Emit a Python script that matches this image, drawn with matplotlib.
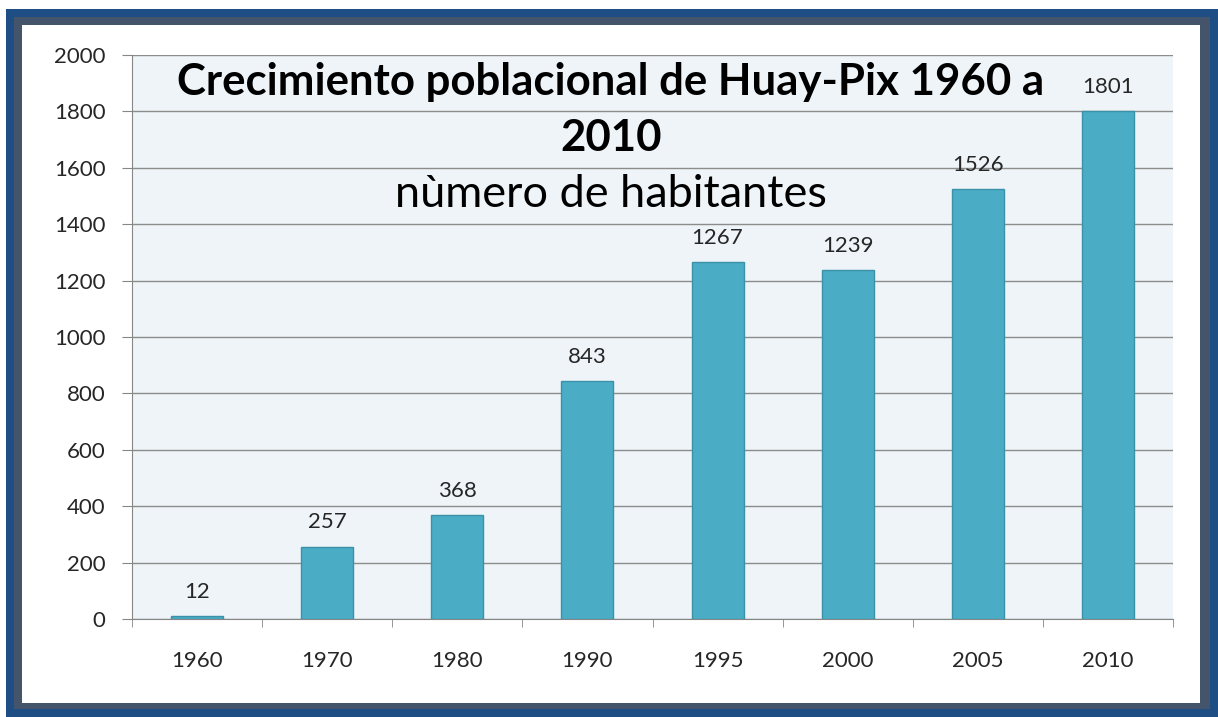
import matplotlib.pyplot as plt
from matplotlib.patches import Rectangle

years = ['1960', '1970', '1980', '1990', '1995', '2000', '2005', '2010']
habitantes = [12, 257, 368, 843, 1267, 1239, 1526, 1801]
yticks = [0, 200, 400, 600, 800, 1000, 1200, 1400, 1600, 1800, 2000]

W, H = 1218, 717
fig = plt.figure(figsize=(W / 100, H / 100), dpi=100)
plt.rcParams['font.family'] = ['Lato', 'DejaVu Sans']

# frame: dark blue, grey, then white inside
def px_rect(x0, y0, x1, y1, color):
    fig.patches.append(Rectangle((x0 / W, 1 - y1 / H), (x1 - x0) / W, (y1 - y0) / H,
                                 transform=fig.transFigure, facecolor=color,
                                 edgecolor='none', zorder=-10))

px_rect(6, 9, 1218, 717, '#1f4e85')
px_rect(14, 17, 1210, 709, '#44546a')
px_rect(22, 25, 1200, 703, 'white')

ax = fig.add_axes([132 / W, 1 - 619 / H, (1173 - 132) / W, (619 - 55) / H])
ax.set_facecolor('#eef4f8')

x = range(len(years))
ax.bar(x, habitantes, width=0.4, color='#4bacc6', edgecolor='#3a92a8', linewidth=1, zorder=3)
for xi, v in zip(x, habitantes):
    ax.text(xi, v + 50, str(v), ha='center', va='bottom', fontsize=16, color='#262626', zorder=4)

ax.set_xlim(-0.5, len(years) - 0.5)
ax.set_ylim(0, 2000)
ax.set_yticks(yticks)
ax.set_yticklabels([str(t) for t in yticks], fontsize=16, color='#262626')
ax.set_xticks(list(x))
ax.set_xticklabels(years, fontsize=16, color='#262626')
ax.tick_params(axis='x', length=0, pad=23)
ax.tick_params(axis='y', length=7, color='#868686', pad=12)
# tick marks between categories
ax.set_xticks([i - 0.5 for i in range(len(years) + 1)], minor=True)
ax.tick_params(axis='x', which='minor', length=6, color='#868686')

ax.grid(axis='y', color='#8c8c8c', linewidth=1, zorder=0)
for s in ['top', 'right']:
    ax.spines[s].set_visible(False)
ax.spines['left'].set_color('#868686')
ax.spines['bottom'].set_color('#868686')

ax.text(0.46, 0.952, 'Crecimiento poblacional de Huay-Pix 1960 a', transform=ax.transAxes,
        ha='center', va='center', fontsize=31.5, fontweight='bold', color='black', zorder=5)
ax.text(0.46, 0.853, '2010', transform=ax.transAxes,
        ha='center', va='center', fontsize=31.5, fontweight='bold', color='black', zorder=5)
ax.text(0.46, 0.752, 'nùmero de habitantes', transform=ax.transAxes,
        ha='center', va='center', fontsize=32.5, color='black', zorder=5)

fig.savefig('out.png', dpi=100)
